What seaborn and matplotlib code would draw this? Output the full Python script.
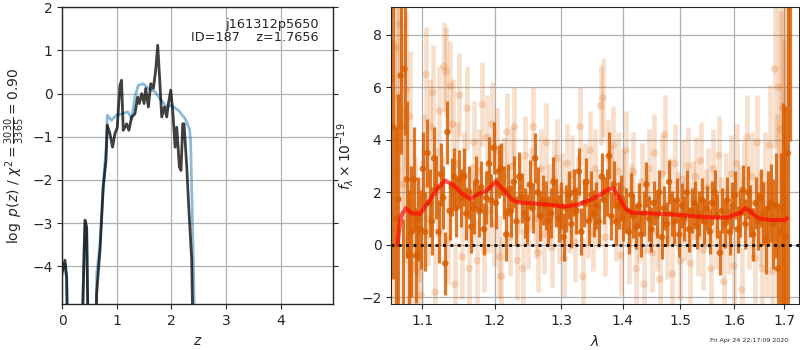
import numpy as np
import pandas as pd
import matplotlib
matplotlib.use("Agg")
import matplotlib.pyplot as plt
import seaborn as sns
from matplotlib.ticker import FixedLocator, NullLocator, FixedFormatter

# ---------------- data: left panel, log p(z) ----------------
z_dark = [0.0, 0.049, 0.079, 0.10, 0.355, 0.40, 0.416, 0.446, 0.477, 0.611, 0.629, 0.69, 0.75, 0.80,
          0.824, 0.873, 0.92, 0.963, 1.006, 1.055, 1.085, 1.116, 1.177, 1.22, 1.27, 1.33, 1.38,
          1.41, 1.455, 1.498, 1.528, 1.577, 1.62, 1.668, 1.71, 1.748, 1.778, 1.821, 1.87,
          1.913, 1.944, 1.986, 2.023, 2.066, 2.096, 2.145, 2.175, 2.206, 2.23, 2.28, 2.316,
          2.34, 2.37, 2.40]
logp_dark = [-4.12, -3.86, -4.25, -6.0, -6.0, -3.6, -2.93, -3.09, -6.0, -6.0, -4.63, -3.63, -2.16, -1.55,
             -0.73, -0.93, -1.24, -0.93, -0.79, 0.19, 0.31, -0.85, -0.70, -0.85, -0.54, -0.47, -0.08,
             -0.23, 0.0, -0.23, 0.12, -0.31, 0.23, 0.12, 0.54, 1.12, 0.46, -0.54, -0.31,
             -0.54, -0.23, 0.08, -0.39, -1.24, -0.78, -1.70, -1.78, -0.70, -0.70, -1.70, -2.63,
             -3.16, -3.86, -6.0]

z_blue = [0.0, 0.049, 0.079, 0.10, 0.355, 0.40, 0.416, 0.446, 0.477, 0.611, 0.629, 0.69, 0.75, 0.80,
          0.824, 0.90, 0.99, 1.116, 1.20, 1.27, 1.33, 1.39, 1.48, 1.577, 1.70, 1.79, 1.913,
          2.00, 2.13, 2.25, 2.33, 2.35, 2.37, 2.40, 2.43]
logp_blue = [-4.2, -3.95, -4.3, -6.0, -6.0, -3.7, -3.0, -3.15, -6.0, -6.0, -4.17, -3.5, -2.1, -1.3,
             -0.50, -0.62, -0.50, -0.46, -0.42, -0.58, -0.08, 0.19, 0.23, 0.12, 0.04, -0.12, -0.31,
             -0.27, -0.39, -0.58, -0.82, -1.08, -2.16, -3.86, -6.0]

# ---------------- data: right panel, spectrum ----------------
wave_a = [1.062, 1.066, 1.069, 1.072, 1.075, 1.077, 1.080, 1.083, 1.086, 1.089, 1.092, 1.095, 1.098,
          1.101, 1.104, 1.107, 1.110, 1.113, 1.116, 1.119, 1.122, 1.125, 1.128, 1.131, 1.134, 1.137,
          1.140, 1.143, 1.146, 1.150, 1.153, 1.157, 1.160, 1.164, 1.167, 1.171, 1.174, 1.178, 1.181,
          1.185, 1.188, 1.192, 1.195, 1.199, 1.202, 1.206, 1.209, 1.213, 1.217, 1.220, 1.224, 1.228,
          1.232, 1.236, 1.240, 1.244, 1.248, 1.252, 1.256, 1.260, 1.264, 1.268, 1.272, 1.276, 1.280,
          1.284, 1.288, 1.292, 1.296, 1.300, 1.304, 1.308, 1.312, 1.316, 1.320, 1.324, 1.328, 1.332,
          1.336, 1.340, 1.344, 1.348, 1.352, 1.356, 1.360, 1.365, 1.369, 1.373, 1.377, 1.381, 1.385,
          1.389, 1.393, 1.397, 1.401, 1.406, 1.410, 1.414, 1.418, 1.423, 1.427, 1.431, 1.436, 1.440,
          1.445, 1.449, 1.453, 1.458, 1.462, 1.467, 1.471, 1.476, 1.480, 1.485, 1.489, 1.494, 1.498,
          1.503, 1.507, 1.512, 1.516, 1.521, 1.526, 1.530, 1.535, 1.540, 1.544, 1.549, 1.554, 1.558,
          1.563, 1.568, 1.573, 1.577, 1.582, 1.587, 1.592, 1.597, 1.602, 1.607, 1.612, 1.617, 1.622,
          1.627, 1.632, 1.637, 1.642, 1.647, 1.652, 1.657, 1.662, 1.667, 1.672, 1.677, 1.682, 1.687,
          1.692, 1.697, 1.702, 1.707, 1.712]
flux_a = [4.5, 1.0, 1.74, 6.45, -2.5, 6.7, 2.5, -0.4, 0.5, 2.5, -0.4, 1.0, 0.6,
          2.9, 0.5, 3.5, 1.6, 0.9, 3.3, 2.2, 0.5, 2.7, 1.8, -0.7, 4.3, 1.3,
          2.2, 2.6, 1.4, 2.5, 1.8, 2.6, 1.2, 2.0, 0.7, 1.4, 2.4, 1.3, 2.2,
          0.6, 1.8, 3.1, 1.7, 3.7, 1.6, 2.8, 2.9, 2.0, 0.4, 2.1, 1.3, 2.4,
          0.9, 2.6, 1.8, 1.2, 1.0, 2.3, 1.4, 3.3, 2.0, 1.1, 1.7, 1.5, 0.9,
          1.2, 2.4, 1.6, 1.0, 1.5, 0.3, 1.4, 1.9, 0.8, 2.0, 1.3, 2.8, 0.5,
          1.6, 2.4, 0.9, 1.9, 1.2, 1.5, 0.9, 2.6, 1.7, 2.0, 3.4, 1.1, 2.3,
          0.9, 1.5, 1.8, 1.0, 1.3, 0.5, 1.9, 1.1, 0.7, 1.5, 0.4, 1.2, 2.3,
          1.0, 0.6, 1.6, 1.1, 2.0, 0.3, 1.4, 0.8, 2.4, 1.2, 0.9, 1.7, 0.4,
          1.5, 1.0, 2.0, 0.6, 1.3, 1.6, 0.7, 1.2, 1.7, 0.9, 1.4, 0.5, 1.6,
          2.0, 1.1, -0.3, 1.3, 0.8, 1.7, 0.5, 1.5, 1.9, 0.6, 1.2, 2.1, 0.8,
          2.0, 1.3, 0.4, 1.6, 0.9, 1.8, 1.2, 0.2, 1.4, 1.6, 0.8, 1.5, -0.9,
          0.5, 1.4, 0.3, 3.5, 10.0]
err_a = [5.8, 3.5, 4.0, 3.0, 3.5, 2.5, 3.0, 2.5, 2.5, 2.0, 1.8, 1.6, 1.5,
         1.4, 1.5, 1.3, 1.3, 1.3, 1.2, 1.2, 1.2, 1.2, 1.2, 1.2, 1.2, 1.1,
         1.1, 1.1, 1.1, 1.1, 1.1, 1.1, 1.0, 1.0, 1.0, 1.0, 1.0, 1.0, 1.0,
         1.0, 1.0, 1.0, 1.0, 1.0, 1.0, 1.0, 1.0, 1.0, 1.0, 1.0, 1.0, 1.0,
         0.95, 0.95, 0.95, 0.95, 0.95, 0.95, 0.95, 0.95, 0.95, 0.95, 0.95, 0.95, 0.95,
         0.95, 0.95, 0.9, 0.9, 0.9, 0.9, 0.9, 0.9, 0.9, 0.9, 0.9, 0.9, 0.9,
         0.9, 0.9, 0.9, 0.9, 0.9, 0.9, 0.9, 0.9, 0.9, 0.9, 0.9, 0.9, 0.9,
         0.9, 0.9, 0.85, 0.85, 0.85, 0.85, 0.85, 0.85, 0.85, 0.85, 0.85, 0.85, 0.85,
         0.85, 0.85, 0.85, 0.85, 0.85, 0.85, 0.85, 0.85, 0.85, 0.85, 0.85, 0.85, 0.85,
         0.85, 0.85, 0.85, 0.85, 0.85, 0.85, 0.85, 0.85, 0.85, 0.85, 0.85, 0.85, 0.85,
         0.85, 0.85, 0.85, 0.85, 0.9, 0.9, 0.9, 0.9, 0.9, 0.9, 0.9, 0.95, 0.95,
         1.0, 1.0, 1.0, 1.0, 1.1, 1.1, 1.2, 1.3, 1.4, 1.5, 1.7, 2.0, 2.5,
         3.0, 4.0, 5.0, 7.0, 6.06]

wave_b = [1.063, 1.066, 1.068, 1.071, 1.074, 1.076, 1.079, 1.081, 1.084, 1.087, 1.090, 1.093, 1.096,
          1.099, 1.102, 1.105, 1.108, 1.111, 1.114, 1.117, 1.120, 1.123, 1.126, 1.129, 1.132, 1.135,
          1.138, 1.141, 1.144, 1.147, 1.150, 1.154, 1.157, 1.161, 1.164, 1.168, 1.171, 1.175, 1.178,
          1.182, 1.185, 1.189, 1.192, 1.196, 1.199, 1.203, 1.207, 1.210, 1.214, 1.218, 1.222, 1.225,
          1.229, 1.233, 1.237, 1.241, 1.245, 1.249, 1.253, 1.257, 1.261, 1.265, 1.269, 1.273, 1.277,
          1.281, 1.285, 1.289, 1.293, 1.297, 1.301, 1.305, 1.309, 1.313, 1.317, 1.321, 1.326, 1.330,
          1.334, 1.338, 1.342, 1.346, 1.350, 1.354, 1.359, 1.363, 1.367, 1.371, 1.375, 1.380, 1.384,
          1.388, 1.392, 1.397, 1.401, 1.405, 1.410, 1.414, 1.418, 1.423, 1.427, 1.432, 1.436, 1.441,
          1.445, 1.450, 1.454, 1.459, 1.463, 1.468, 1.472, 1.477, 1.481, 1.486, 1.490, 1.495, 1.500,
          1.504, 1.509, 1.514, 1.518, 1.523, 1.528, 1.532, 1.537, 1.542, 1.547, 1.551, 1.556, 1.561,
          1.566, 1.571, 1.576, 1.580, 1.585, 1.590, 1.595, 1.600, 1.605, 1.610, 1.615, 1.620, 1.625,
          1.630, 1.635, 1.640, 1.645, 1.650, 1.655, 1.660, 1.665, 1.670, 1.675, 1.680, 1.684, 1.688,
          1.692, 1.696, 1.700, 1.704]
flux_b = [2.8, 7.5, 5.6, 8.4, 4.5, 2.3, 5.9, 0.2, 4.9, -0.8, 1.2, -1.0, 0.6,
          -1.9, 3.1, 6.5, 1.0, 4.5, 5.8, -1.8, 2.0, 5.1, 1.7, 6.8, 6.6, 0.2,
          6.05, 4.6, -1.5, 3.1, 5.7, -0.45, 2.7, 5.2, -0.9, 1.5, 3.9, -0.6, 2.8,
          5.35, -0.2, 4.1, 1.3, 4.6, 0.8, 3.6, -0.45, -1.2, 2.6, 4.3, 0.3, 3.0,
          4.5, -0.6, 1.9, -0.9, 3.4, 0.6, 2.2, 4.5, 1.0, -0.3, 2.9, 0.4, 3.9,
          1.6, -0.1, 2.5, 3.3, 0.8, 2.0, -0.5, 3.1, 1.2, 2.7, 0.1, 1.9, 4.5,
          -1.2, 2.4, 1.0, 3.6, 0.5, 2.9, 1.4, 5.3, 5.6, 0.3, 3.3, 2.3, 3.8,
          0.9, 2.8, -0.4, 2.1, 3.6, 0.0, 1.6, 2.8, -0.9, 0.8, 2.4, -1.5, 1.2,
          2.9, -0.3, 3.5, 0.5, -1.3, 2.7, 4.2, 0.2, 1.8, -1.1, 3.1, 1.3, -0.6,
          2.5, 0.9, 3.0, -0.7, 1.7, 2.6, 0.3, 3.2, -0.2, 1.4, 2.2, -0.9, 2.9,
          0.6, 3.4, 1.1, -1.4, 2.0, 0.4, 2.7, -0.8, 3.1, 1.5, -1.7, 2.4, 4.1,
          0.7, 2.6, -0.5, 3.9, 1.0, -0.9, 2.3, 0.1, 3.8, -1.0, 6.7, 1.5, 6.0,
          4.4, 5.2, 1.8, 3.0]
err_b = [5.0, 4.0, 4.0, 4.0, 3.5, 3.0, 3.0, 2.8, 2.5, 2.5, 2.2, 2.0, 2.0,
         2.0, 1.9, 1.8, 1.8, 1.8, 1.8, 1.8, 1.7, 1.7, 1.7, 1.7, 1.7, 1.7,
         1.7, 1.7, 1.6, 1.6, 1.6, 1.6, 1.6, 1.6, 1.6, 1.6, 1.6, 1.6, 1.6,
         1.6, 1.6, 1.6, 1.6, 1.6, 1.6, 1.6, 1.6, 1.5, 1.5, 1.5, 1.5, 1.5,
         1.5, 1.5, 1.5, 1.5, 1.5, 1.5, 1.5, 1.5, 1.5, 1.5, 1.5, 1.5, 1.5,
         1.5, 1.5, 1.5, 1.5, 1.5, 1.5, 1.5, 1.5, 1.5, 1.5, 1.5, 1.5, 1.5,
         1.5, 1.5, 1.5, 1.5, 1.5, 1.5, 1.5, 1.5, 1.5, 1.5, 1.5, 1.5, 1.5,
         1.5, 1.5, 1.5, 1.5, 1.5, 1.5, 1.5, 1.5, 1.5, 1.5, 1.5, 1.5, 1.5,
         1.5, 1.5, 1.5, 1.5, 1.5, 1.5, 1.5, 1.5, 1.5, 1.5, 1.5, 1.5, 1.5,
         1.5, 1.5, 1.5, 1.5, 1.5, 1.5, 1.5, 1.5, 1.5, 1.5, 1.5, 1.5, 1.5,
         1.5, 1.5, 1.5, 1.5, 1.5, 1.5, 1.5, 1.5, 1.5, 1.5, 1.6, 1.6, 1.6,
         1.6, 1.7, 1.7, 1.8, 1.8, 1.9, 2.0, 2.1, 2.3, 2.5, 3.0, 3.5, 4.0,
         4.5, 5.0, 6.0, 7.0]

wave_model = [1.0679, 1.0722, 1.0786, 1.0860, 1.0970, 1.1102, 1.1192, 1.1305, 1.1418, 1.1535,
              1.1651, 1.1767, 1.1887, 1.2016, 1.2127, 1.2250, 1.2325, 1.2523, 1.2776, 1.3034,
              1.3245, 1.3459, 1.3622, 1.3759, 1.3842, 1.3925, 1.4038, 1.4152, 1.4696, 1.4995,
              1.5300, 1.5608, 1.5892, 1.6021, 1.6117, 1.6214, 1.6312, 1.6476, 1.6710, 1.7014, 1.7050]
flux_model = [0.0, 1.08, 1.40, 1.21, 1.18, 1.71, 2.10, 2.45, 2.29, 1.97,
              1.75, 1.94, 2.06, 2.41, 2.12, 1.74, 1.63, 1.59, 1.54, 1.46,
              1.52, 1.71, 1.90, 2.12, 2.16, 1.84, 1.40, 1.23, 1.18, 1.14,
              1.08, 1.05, 1.04, 1.17, 1.21, 1.40, 1.27, 1.02, 0.95, 0.95, 1.02]

xticks_right = [1.1, 1.2, 1.3, 1.4, 1.5, 1.6, 1.7]
xtick_labels_right = ["1.1", "1.2", "1.3", "1.4", "1.5", "1.6", "1.7"]

# ---------------- figure ----------------
sns.set_style("ticks")
plt.rcParams['font.family'] = ['DejaVu Sans']
plt.rcParams['mathtext.fontset'] = 'dejavusans'

fig = plt.figure(figsize=(8, 3.5), dpi=100)
ax1 = fig.add_axes([0.0779, 0.1306, 0.3384, 0.8486])
ax2 = fig.add_axes([0.4891, 0.1306, 0.5097, 0.8486])

orange = '#d95f02'

# left panel
df_dark = pd.DataFrame({'z': z_dark, 'logp': logp_dark})
df_blue = pd.DataFrame({'z': z_blue, 'logp': logp_blue})
sns.lineplot(data=df_blue, x='z', y='logp', ax=ax1, color='#1f77b4', alpha=0.5, lw=2, sort=False)
sns.lineplot(data=df_dark, x='z', y='logp', ax=ax1, color='k', alpha=0.75, lw=2, sort=False)
ax1.set_xlim(0, 4.96)
ax1.set_ylim(-4.88, 2)
ax1.set_xticks([0, 1, 2, 3, 4])
ax1.set_yticks([-4, -3, -2, -1, 0, 1, 2])
ax1.grid(True, color='#b0b0b0', lw=0.9)
ax1.tick_params(labelsize=10, right=True)
ax1.set_xlabel(r'$z$', fontsize=10)
ax1.set_ylabel(r'$\log\ p(z)$ / $\chi^2=\frac{3030}{3365}=0.90$', fontsize=10)
ax1.text(0.948, 0.965, 'j161312p5650\nID=187    z=1.7656', transform=ax1.transAxes,
         ha='right', va='top', fontsize=9.3, linespacing=1.05)
for s in ax1.spines.values():
    s.set_linewidth(1.0)

# right panel
ax2.errorbar(wave_b, flux_b, yerr=err_b, fmt='none', ecolor=orange, alpha=0.2, elinewidth=3.3)
ax2.errorbar(wave_a, flux_a, yerr=err_a, fmt='none', ecolor=orange, alpha=0.85, elinewidth=2.3)
df_b = pd.DataFrame({'wave': wave_b, 'flux': flux_b})
df_a = pd.DataFrame({'wave': wave_a, 'flux': flux_a})
sns.scatterplot(data=df_b, x='wave', y='flux', ax=ax2, color=orange, alpha=0.2, s=30, edgecolor='none')
sns.scatterplot(data=df_a, x='wave', y='flux', ax=ax2, color=orange, alpha=0.85, s=22, edgecolor='none')
df_m = pd.DataFrame({'wave': wave_model, 'flux': flux_model})
sns.lineplot(data=df_m, x='wave', y='flux', ax=ax2, color='red', alpha=0.65, lw=3, sort=False)
ax2.axhline(0, color='k', ls=':', lw=2)

ax2.set_xscale('log')
ax2.set_xlim(1.06, 1.73)
ax2.set_ylim(-2.26, 9.05)
ax2.xaxis.set_major_locator(FixedLocator(xticks_right))
ax2.xaxis.set_major_formatter(FixedFormatter(xtick_labels_right))
ax2.xaxis.set_minor_locator(NullLocator())
ax2.set_yticks([-2, 0, 2, 4, 6, 8])
ax2.grid(True, color='#b0b0b0', lw=0.9)
ax2.tick_params(labelsize=10)
ax2.set_xlabel(r'$\lambda$', fontsize=10)
ax2.set_ylabel(r'$f_\lambda\times10^{-19}$', fontsize=10)

fig.text(0.985, 0.02, 'Fri Apr 24 22:17:09 2020', ha='right', va='bottom', fontsize=4.5)

fig.savefig('out.png', dpi=100)
